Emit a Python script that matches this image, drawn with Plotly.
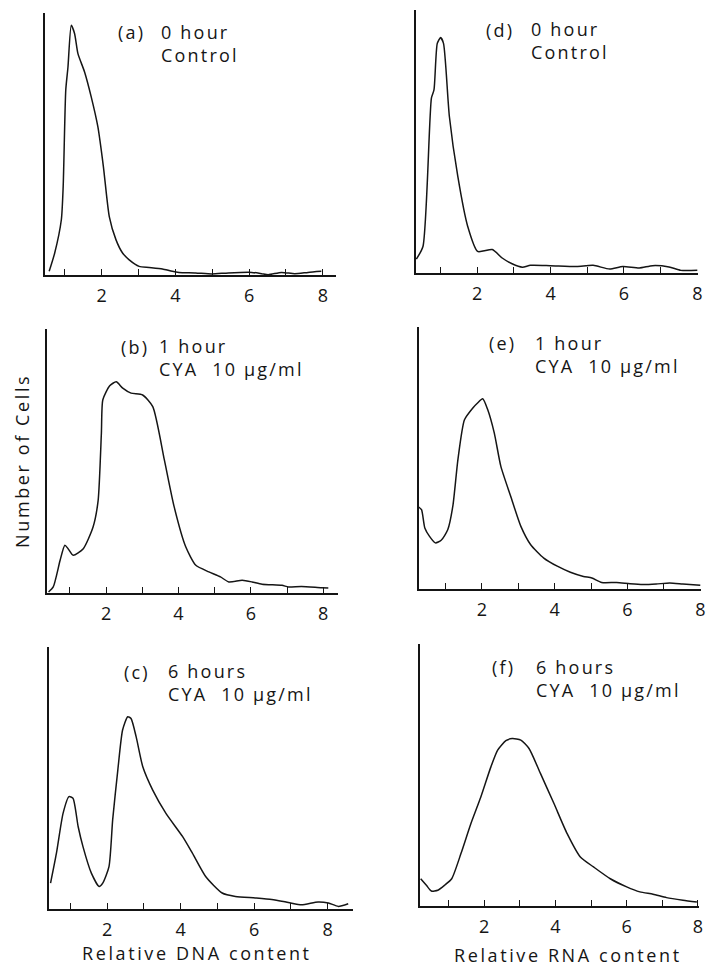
import plotly.graph_objects as go

# ---------------- data (relative content vs. number of cells, arbitrary units) -------------
a_x = [0.58,0.73,0.91,0.96,1.03,1.09,1.18,1.27,1.36,1.54,1.72,1.90,2.05,2.21,2.39,2.57,2.75,3.02,3.29,3.65,3.92,4.10,4.55,4.99,5.44,6.07,6.34,6.52,6.88,7.24,7.60,7.96]
a_y = [1.4,8.4,21.1,33.8,70.6,79.4,95.3,92.1,84.5,77.5,68.0,56.6,41.4,22.3,13.5,8.4,5.8,3.3,2.9,2.3,1.4,1.0,0.8,0.4,0.8,1.0,0.5,0.1,1.0,0.5,1.0,1.4]

b_x = [0.41,0.54,0.73,0.86,0.95,1.09,1.37,1.64,1.78,1.87,1.91,2.10,2.28,2.46,2.69,3.01,3.29,3.61,3.88,4.20,4.48,4.84,5.16,5.39,5.76,6.03,6.31,6.86,7.04,7.40,7.95,8.14]
b_y = [0.4,2.3,12.4,18.1,16.8,14.3,16.8,25.0,35.0,60.5,73.2,78.5,80.0,77.6,75.7,75.0,70.6,50.4,32.7,17.5,10.5,8.0,6.1,4.2,4.8,4.2,3.3,2.9,2.3,2.5,2.0,1.9]

c_x = [0.46,0.62,0.80,0.96,1.07,1.21,1.34,1.57,1.78,1.88,2.05,2.15,2.29,2.42,2.56,2.65,2.79,2.97,3.24,3.60,4.05,4.32,4.68,5.13,5.49,6.03,6.48,6.93,7.29,7.74,8.02,8.29,8.56]
c_y = [9.9,21.3,36.5,42.9,42.3,31.5,23.9,13.7,8.6,9.9,16.2,34.0,53.0,68.3,73.4,72.7,65.7,54.3,45.4,36.5,27.7,21.3,12.4,6.1,4.8,4.2,3.6,2.5,1.6,2.7,2.3,1.0,2.0]

d_x = [0.34,0.52,0.75,0.82,0.91,1.0,1.08,1.24,1.47,1.74,2.01,2.41,2.68,2.95,3.23,3.45,3.99,4.71,5.16,5.61,5.97,6.42,6.78,7.23,7.55,8.0]
d_y = [5.3,10.1,66.5,69.6,87.3,89.5,87.3,59.5,36.7,17.7,8.2,8.9,5.7,3.5,2.2,2.9,2.8,2.5,2.9,1.5,2.5,1.9,2.8,2.3,1.0,1.0]

e_x = [0.26,0.34,0.43,0.56,0.72,0.88,1.06,1.20,1.34,1.52,1.75,1.88,2.02,2.16,2.34,2.52,2.79,3.07,3.34,3.70,4.07,4.43,4.79,5.02,5.29,5.70,6.07,6.43,6.79,7.16,7.52,8.0]
e_y = [31.3,30.3,23.3,20.1,17.6,18.6,22.6,31.6,49.4,64.6,69.1,71.0,72.6,68.4,59.5,46.8,35.4,23.9,16.9,11.8,8.7,6.4,4.8,4.2,2.5,2.5,2.0,1.7,1.9,2.3,1.9,1.4]

f_x = [0.22,0.38,0.52,0.70,0.89,1.09,1.35,1.63,1.91,2.19,2.38,2.61,2.79,3.03,3.26,3.58,3.96,4.33,4.70,5.07,5.54,6.0,6.37,6.74,7.12,7.58,7.97]
f_y = [10.4,7.9,5.7,6.0,7.9,10.4,20.0,31.5,41.7,53.1,59.5,63.1,63.9,63.3,60.1,50.6,39.1,27.6,18.7,14.9,10.4,7.3,5.4,4.5,3.2,2.2,1.5]

panel_letters = ["(a)", "(b)", "(c)", "(d)", "(e)", "(f)"]
panel_times = ["0 hour", "1 hour", "6 hours", "0 hour", "1 hour", "6 hours"]
panel_treat = ["Control", "CYA  10 \u03bcg/ml", "CYA  10 \u03bcg/ml",
               "Control", "CYA  10 \u03bcg/ml", "CYA  10 \u03bcg/ml"]
tick_vals = [1, 2, 3, 4, 5, 6, 7, 8]
tick_text = ["", "2", "", "4", "", "6", "", "8"]
y_title = "Number of Cells"
x_titles = ["Relative DNA content", "Relative RNA content"]

series = [(a_x, a_y), (b_x, b_y), (c_x, c_y), (d_x, d_y), (e_x, e_y), (f_x, f_y)]

# ---------------- layout (pixel geometry of the page) ----------------
W, H = 707, 966
INK = "#151515"
FONT = "Open Sans"
FS = 18

# panel boxes in page pixels: left, right, top, bottom
boxes = [(45, 338, 13, 275), (47, 340, 329, 593), (49, 355, 647, 909),
         (418, 702, 10, 273), (421, 705, 327, 589), (422, 703, 644, 906)]
xranges = [(0.46, 8.36), (0.36, 8.41), (0.41, 8.69),
           (0.32, 8.02), (0.26, 8.02), (0.19, 8.03)]
# label anchor: letter x, text x, first-line y, second-line y (page px)
labels_px = [(117, 160, 32, 55), (120, 158, 347, 368), (123, 167, 672, 693),
             (487, 532, 30, 52), (490, 536, 343, 365), (493, 537, 667, 690)]


def px(x):
    return x / W


def py(y):
    return 1 - y / H


def spaced(t, s=2.2):
    return f'<span style="letter-spacing:{s}px">{t}</span>'


fig = go.Figure()
layout = dict(width=W, height=H, margin=dict(l=0, r=0, t=0, b=0),
              paper_bgcolor="white", plot_bgcolor="white", showlegend=False,
              font=dict(family=FONT, color=INK, size=FS))
annotations = []

for i, ((xs, ys), (l, r, t, b), xr) in enumerate(zip(series, boxes, xranges)):
    n = "" if i == 0 else str(i + 1)
    fig.add_trace(go.Scatter(x=xs, y=ys, mode="lines",
                             line=dict(color=INK, width=1.5, shape="spline", smoothing=0.6),
                             xaxis="x" + n, yaxis="y" + n, hoverinfo="skip"))
    layout["xaxis" + n] = dict(domain=[px(l), px(r)], anchor="y" + n, range=list(xr),
                               showgrid=False, zeroline=False, showline=True,
                               linecolor=INK, linewidth=1.8,
                               ticks="inside", ticklen=6, tickwidth=1.4, tickcolor=INK,
                               tickvals=tick_vals, ticktext=tick_text,
                               tickfont=dict(family=FONT, size=18, color=INK),
                               ticklabelstandoff=3)
    layout["yaxis" + n] = dict(domain=[py(b), py(t)], anchor="x" + n, range=[0, 100],
                               showgrid=False, zeroline=False, showline=True,
                               linecolor=INK, linewidth=1.8, ticks="",
                               showticklabels=False)
    lx, tx, y1, y2 = labels_px[i]
    annotations.append(dict(xref="paper", yref="paper", x=px(lx), y=py(y1),
                            xanchor="left", yanchor="middle", showarrow=False,
                            text=spaced(panel_letters[i]),
                            font=dict(family=FONT, size=FS, color=INK)))
    annotations.append(dict(xref="paper", yref="paper", x=px(tx), y=py((y1 + y2) / 2),
                            xanchor="left", yanchor="middle", align="left", showarrow=False,
                            text=spaced(panel_times[i]) + "<br>" + spaced(panel_treat[i]),
                            font=dict(family=FONT, size=FS, color=INK)))

annotations.append(dict(xref="paper", yref="paper", x=px(22), y=py(461),
                        xanchor="center", yanchor="middle", showarrow=False, textangle=-90,
                        text=spaced(y_title, 2.6), font=dict(family=FONT, size=FS, color=INK)))
annotations.append(dict(xref="paper", yref="paper", x=px(198), y=py(953),
                        xanchor="center", yanchor="middle", showarrow=False,
                        text=spaced(x_titles[0], 2.6), font=dict(family=FONT, size=FS, color=INK)))
annotations.append(dict(xref="paper", yref="paper", x=px(571), y=py(955),
                        xanchor="center", yanchor="middle", showarrow=False,
                        text=spaced(x_titles[1], 2.6), font=dict(family=FONT, size=FS, color=INK)))

layout["annotations"] = annotations
fig.update_layout(**layout)
fig.write_html("out.html", config={"displayModeBar": False},
               post_script="document.body.style.margin='0';document.body.style.overflow='hidden';")
